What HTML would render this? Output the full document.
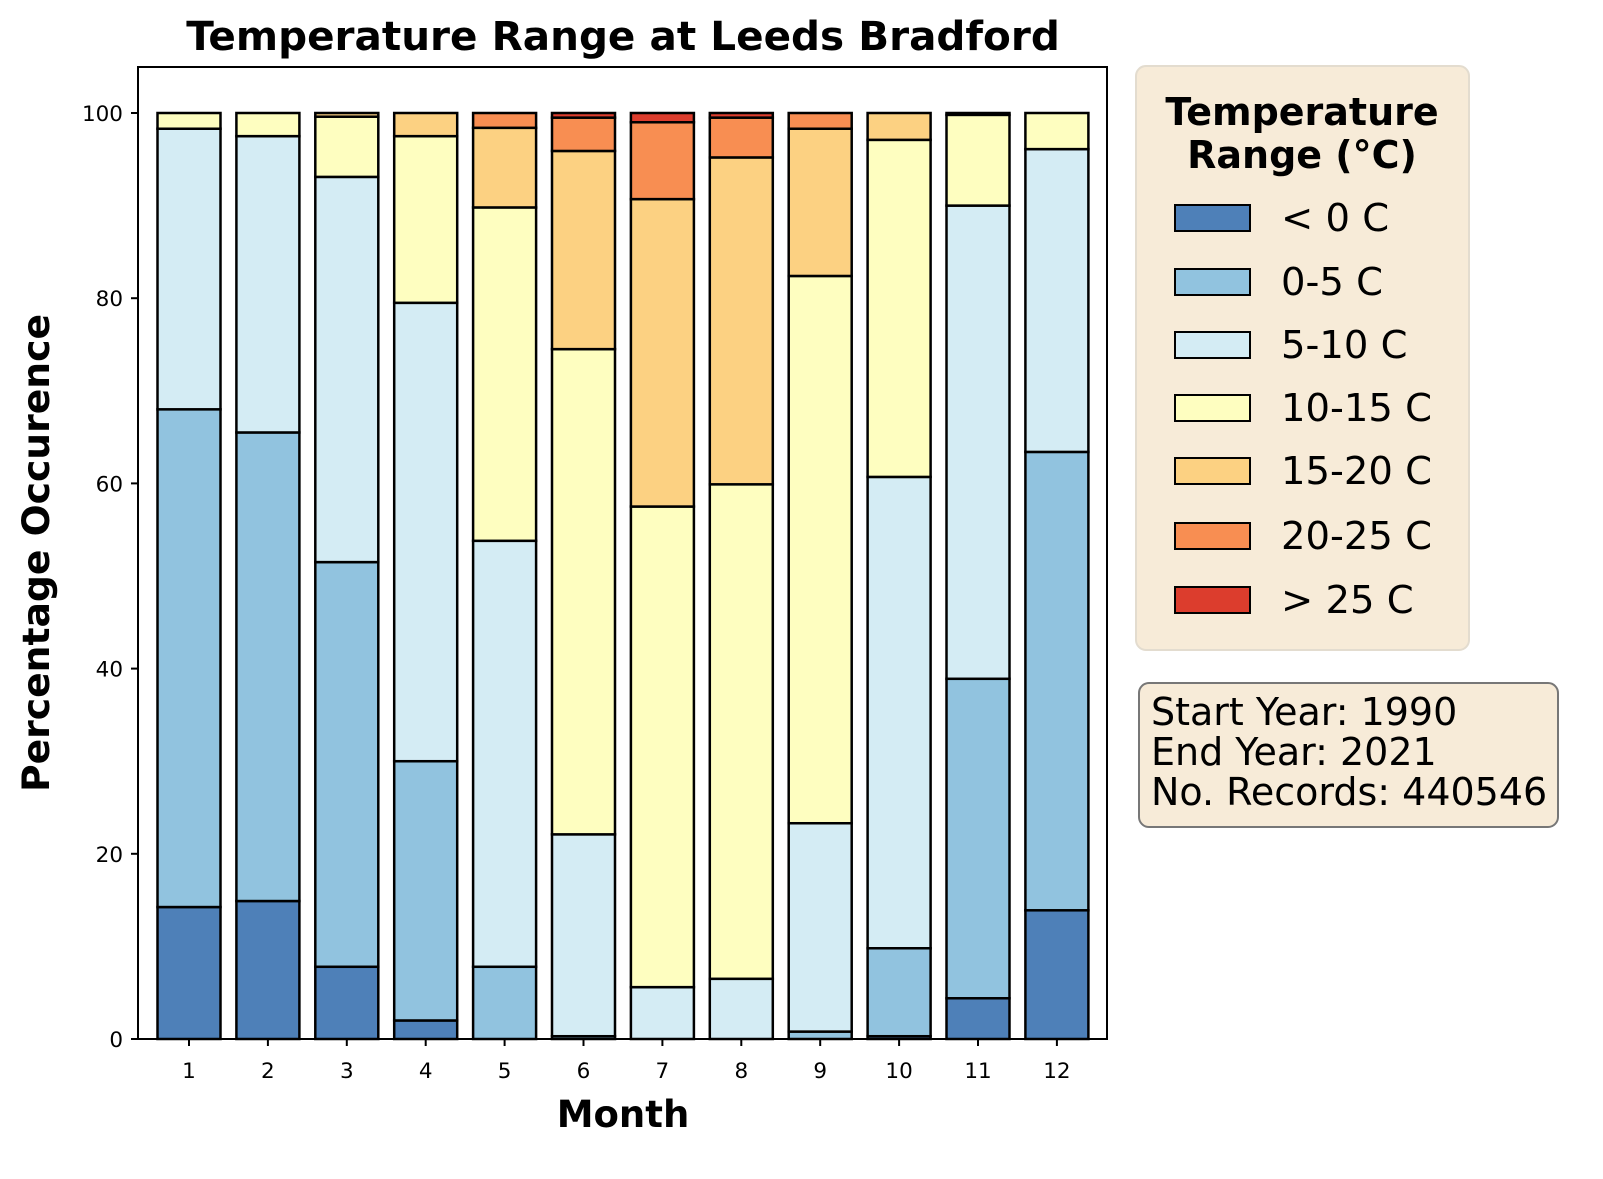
<!DOCTYPE html>
<html><head><meta charset="utf-8"><style>body{margin:0;background:#fff}svg{display:block}text{font-family:"DejaVu Sans","Liberation Sans",sans-serif}</style></head>
<body>
<svg width="1603" height="1179" viewBox="0 0 1603 1179" xmlns="http://www.w3.org/2000/svg">
<rect width="1603" height="1179" fill="#fff"/>
<g id="bars" stroke="#000" stroke-width="2.5"></g>
<rect x="138" y="67" width="969" height="972" fill="none" stroke="#000" stroke-width="2"/>
<g id="ticks" stroke="#000" stroke-width="2"></g>
<g id="tl" font-size="21.5" fill="#000"></g>
<text x="623" y="50" font-size="40.5" font-weight="bold" text-anchor="middle">Temperature Range at Leeds Bradford</text>
<text x="623" y="1127" font-size="37" font-weight="bold" text-anchor="middle">Month</text>
<text transform="translate(49,553) rotate(-90)" font-size="37.7" font-weight="bold" text-anchor="middle">Percentage Occurence</text>
<rect x="1136" y="66" width="333" height="584" rx="10" fill="#f7ebd8" stroke="#e3dccf" stroke-width="2"/>
<text x="1302" y="125" font-size="38" font-weight="bold" text-anchor="middle">Temperature</text>
<text x="1302" y="168" font-size="38" font-weight="bold" text-anchor="middle">Range (°C)</text>
<g id="leg" font-size="38.5"></g>
<rect x="1139" y="683" width="419" height="144" rx="10" fill="#f7ebd8" stroke="#777" stroke-width="2"/>
<text x="1151" y="725" font-size="38">Start Year: 1990</text>
<text x="1151" y="765" font-size="38">End Year: 2021</text>
<text x="1151" y="805" font-size="38">No. Records: 440546</text>
</svg>
<script>
const C=["#4e80b8","#91c3df","#d4ecf4","#fefec0","#fcd182","#f88e52","#dc3d2d"];
const L=["< 0 C","0-5 C","5-10 C","10-15 C","15-20 C","20-25 C","> 25 C"];
const cum=[[14.25,68,98.3,100,100,100,100],[14.9,65.5,97.5,100,100,100,100],[7.8,51.5,93.1,99.6,100,100,100],[2,30,79.5,97.5,100,100,100],[0,7.8,53.8,89.8,98.4,100,100],[0,0.3,22.1,74.5,95.9,99.5,100],[0,0,5.6,57.5,90.7,99,100],[0,0,6.5,59.9,95.2,99.5,100],[0,0.8,23.3,82.4,98.3,100,100],[0.3,9.8,60.7,97.1,100,100,100],[4.4,38.9,90,99.8,100,100,100],[13.9,63.4,96.1,100,100,100,100]];
const Y=v=>1039-v*9.26;const ns="http://www.w3.org/2000/svg";
function el(p,t,a,txt){const e=document.createElementNS(ns,t);for(const k in a)e.setAttribute(k,a[k]);if(txt!=null)e.textContent=txt;document.getElementById(p).appendChild(e);}
cum.forEach((c,i)=>{const cx=189+i*78.9;let prev=0;c.forEach((v,j)=>{if(v-prev>0.01){el("bars","rect",{x:cx-31.5,y:Y(v),width:63,height:(v-prev)*9.26,fill:C[j]});}prev=v;});
el("ticks","line",{x1:cx,x2:cx,y1:1039,y2:1046});el("tl","text",{x:cx,y:1078,"text-anchor":"middle"},i+1);});
for(let v=0;v<=100;v+=20){el("ticks","line",{x1:131,x2:138,y1:Y(v),y2:Y(v)});el("tl","text",{x:123,y:Y(v)+8,"text-anchor":"end"},v);}
const ly=[218,282,345,408,471,536,600];
L.forEach((t,i)=>{el("leg","rect",{x:1175,y:ly[i]-13,width:75,height:26,fill:C[i],stroke:"#000","stroke-width":2});el("leg","text",{x:1281,y:ly[i]+13},t);});
</script>
</body></html>
